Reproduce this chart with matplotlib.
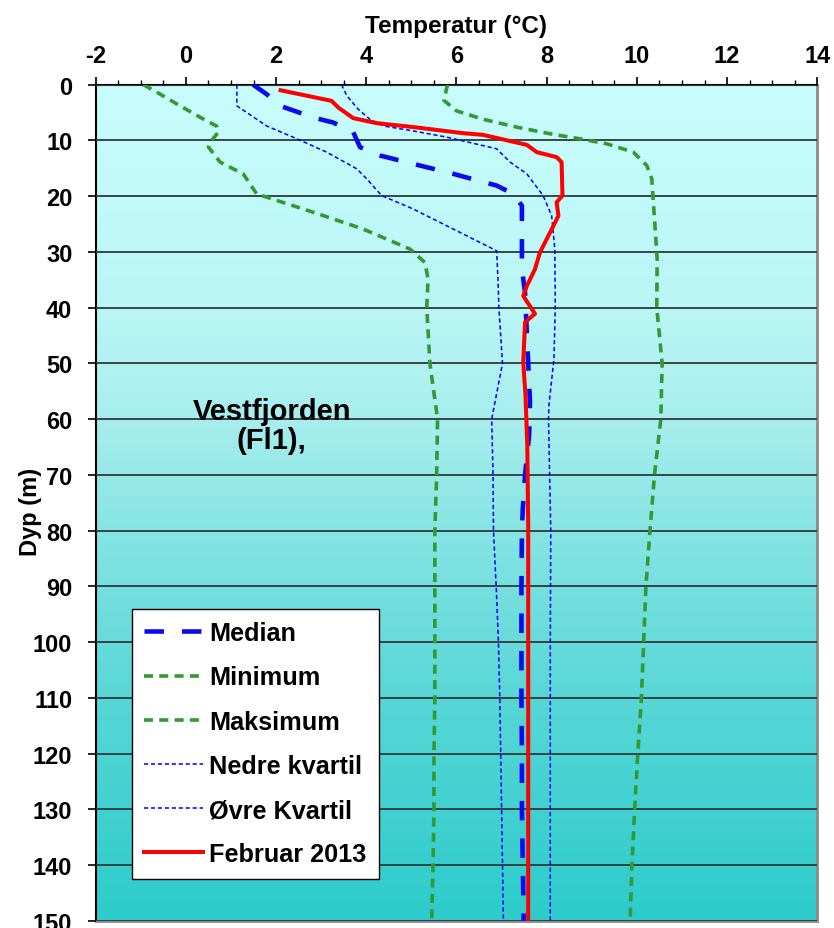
import numpy as np
import matplotlib
matplotlib.use("Agg")
import matplotlib.pyplot as plt
from matplotlib.ticker import MultipleLocator

plt.rcParams['font.family'] = ['Liberation Sans', 'DejaVu Sans']
plt.rcParams['font.weight'] = 'bold'
plt.rcParams['lines.scale_dashes'] = False
plt.rcParams['axes.unicode_minus'] = False

# ---------------- data (depth in m, temperature in °C) ----------------
median_depth = [0, 1.7, 3.8, 5.9, 6.8, 8.5, 11.2, 12.7, 14.2, 16, 18.1, 19.6, 21.7, 26.5, 33, 37.3,
                50, 57, 63, 70, 76, 80, 90, 100, 110, 120, 130, 140, 150]
median_temp = [1.49, 1.79, 2.09, 2.83, 3.27, 3.71, 3.86, 4.30, 5.04, 5.93, 6.89, 7.26, 7.45, 7.45, 7.45, 7.52,
               7.59, 7.63, 7.61, 7.52, 7.47, 7.45, 7.44, 7.44, 7.44, 7.45, 7.45, 7.47, 7.49]

min_depth = [0, 1.7, 3.8, 6.5, 7.4, 8.5, 10, 11.2, 13.9, 16, 19.6, 22.9, 25.9, 29.5, 31.9, 34.9,
             40, 50, 60, 70, 80, 90, 100, 110, 120, 130, 140, 150]
min_temp = [-0.94, -0.57, -0.13, 0.46, 0.68, 0.72, 0.57, 0.50, 0.76, 1.27, 1.57, 2.83, 3.93, 4.97, 5.30, 5.37,
            5.34, 5.41, 5.58, 5.56, 5.52, 5.52, 5.52, 5.52, 5.50, 5.50, 5.48, 5.45]

max_depth = [0, 2.8, 4.7, 6.2, 7.6, 8.8, 9.7, 10.6, 12.1, 14.5, 16.9, 20.5, 31.3, 40, 50, 60, 70, 80,
             90, 100, 110, 120, 130, 140, 150]
max_temp = [5.80, 5.72, 6.00, 6.59, 7.33, 8.07, 8.73, 9.33, 9.92, 10.22, 10.33, 10.36, 10.45, 10.44, 10.56,
            10.53, 10.39, 10.29, 10.20, 10.15, 10.10, 10.02, 9.95, 9.89, 9.85]

lower_q_depth = [0, 3.8, 7.4, 9.7, 12.1, 15.1, 16.9, 19.9, 22.3, 25.3, 29.8, 35, 40, 50, 60, 70, 80,
                 90, 100, 110, 120, 130, 140, 150]
lower_q_temp = [1.13, 1.13, 1.79, 2.46, 3.12, 3.79, 4.01, 4.34, 5.04, 5.78, 6.89, 6.92, 6.94, 7.02, 6.78,
                6.81, 6.82, 6.88, 6.93, 6.96, 6.98, 7.00, 7.02, 7.04]

upper_q_depth = [0, 2.0, 4.4, 6.2, 7.4, 8.3, 9.4, 11.5, 13.9, 16, 19.9, 23.5, 29.5, 40, 49.2, 57.5, 60,
                 80, 100, 120, 150]
upper_q_temp = [3.45, 3.57, 3.82, 4.08, 4.38, 5.04, 5.78, 6.89, 7.19, 7.56, 7.92, 8.11, 8.18, 8.19, 8.16,
                8.05, 8.04, 8.09, 8.08, 8.08, 8.08]

feb_depth = [1, 2.9, 4.1, 6.0, 6.9, 7.6, 8.7, 9.0, 10.8, 12.1, 13.0, 13.9, 19.9, 21.1, 23.5, 25.3,
             30.1, 33.1, 36.1, 37.9, 41.1, 42.6, 49.8, 55.8, 64.8, 79.4, 150]
feb_temp = [2.10, 3.23, 3.38, 3.71, 4.23, 5.04, 6.15, 6.59, 7.56, 7.78, 8.22, 8.33, 8.35, 8.22, 8.26, 8.15,
            7.85, 7.74, 7.56, 7.48, 7.74, 7.52, 7.48, 7.53, 7.57, 7.59, 7.59]

labels = ['Median', 'Minimum', 'Maksimum', 'Nedre kvartil', 'Øvre Kvartil', 'Februar 2013']
x_ticks = [-2, 0, 2, 4, 6, 8, 10, 12, 14]
y_ticks = list(range(0, 151, 10))

# ---------------- figure ----------------
W, H = 834, 929
fig = plt.figure(figsize=(W / 100, H / 100), dpi=100)
fig.patch.set_facecolor('white')
L, R, T, B = 95.7, 817.3, 85.7, 921.7
ax = fig.add_axes([L / W, 1 - B / H, (R - L) / W, (B - T) / H])

# background gradient
stops_d = np.array([0, 40, 60, 80, 110, 150])
stops_c = np.array([[200, 253, 253], [186, 246, 246], [168, 238, 238],
                    [135, 228, 228], [88, 214, 214], [45, 203, 203]]) / 255.0
dd = np.linspace(0, 150, 300)
grad = np.stack([np.interp(dd, stops_d, stops_c[:, k]) for k in range(3)], axis=-1)[:, None, :]
ax.imshow(grad, extent=[-2, 14, 150, 0], aspect='auto', zorder=0, interpolation='bilinear')

blue = '#0000ff'
green = '#339933'
ax.plot(median_temp, median_depth, color='#0a0aee', lw=3.3, dashes=(14, 13), label=labels[0], zorder=4)
ax.plot(min_temp, min_depth, color=green, lw=2.6, dashes=(6.5, 4.5), label=labels[1], zorder=3)
ax.plot(max_temp, max_depth, color=green, lw=2.6, dashes=(6.5, 4.5), label=labels[2], zorder=3)
ax.plot(lower_q_temp, lower_q_depth, color=blue, lw=1.1, dashes=(3, 2), label=labels[3], zorder=3)
ax.plot(upper_q_temp, upper_q_depth, color=blue, lw=1.1, dashes=(3, 2), label=labels[4], zorder=3)
ax.plot(feb_temp, feb_depth, color='#ff0000', lw=2.9, label=labels[5], zorder=5)

ax.set_xlim(-2, 14)
ax.set_ylim(150, 0)
ax.xaxis.tick_top()
ax.set_xticks(x_ticks)
ax.xaxis.set_minor_locator(MultipleLocator(0.5))
ax.set_yticks(y_ticks)
ax.tick_params(axis='x', which='major', direction='out', length=5.8, width=1.2, pad=7,
               labelsize=17, top=True, bottom=False)
ax.tick_params(axis='x', which='minor', direction='out', length=3.6, width=1.0, top=True, bottom=False)
ax.tick_params(axis='y', which='major', direction='out', length=5.8, width=1.2, pad=11, labelsize=17)
for lab in ax.get_xticklabels() + ax.get_yticklabels():
    lab.set_fontweight('bold')

ax.yaxis.grid(True, color='#303838', lw=1.3, zorder=1)
ax.set_axisbelow(False)
for gl in ax.get_ygridlines():
    gl.set_zorder(1)

ax.spines['left'].set_color('black')
ax.spines['top'].set_color('black')
ax.spines['left'].set_linewidth(1.5)
ax.spines['top'].set_linewidth(1.5)
ax.spines['right'].set_color('#8a8a8a')
ax.spines['bottom'].set_color('#8a8a8a')
ax.spines['right'].set_linewidth(2)
ax.spines['bottom'].set_linewidth(2)

fig.text(456 / W, 1 - 27 / H, 'Temperatur (°C)', ha='center', va='center', fontsize=17.5, fontweight='bold')
fig.text(31 / W, 1 - 512 / H, 'Dyp (m)', ha='center', va='center', rotation=90, fontsize=17, fontweight='bold')

ax.text(1.9, 61.2, 'Vestfjorden\n(Fl1),', ha='center', va='center', fontsize=21, fontweight='bold',
        linespacing=1.05, zorder=6)

leg = ax.legend(loc='lower left', bbox_to_anchor=(0.05, 0.05), borderaxespad=0,
                frameon=True, fancybox=False, framealpha=1, edgecolor='black', facecolor='white',
                handlelength=2.3, handletextpad=0.27, labelspacing=0.8, borderpad=0.5,
                prop={'weight': 'bold', 'size': 18.2})
leg.get_frame().set_linewidth(1.0)
leg.set_zorder(10)

fig.savefig('out.png', dpi=100)
